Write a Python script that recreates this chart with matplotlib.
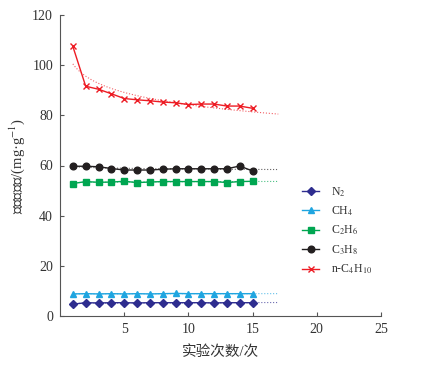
import matplotlib
matplotlib.use("Agg")
import matplotlib.pyplot as plt
import numpy as np

# experiment number and saturated adsorption of each gas (mg/g)
runs = np.arange(1, 16)
n2 = [4.7, 5.3, 5.2, 5.3, 5.3, 5.2, 5.3, 5.3, 5.3, 5.3, 5.3, 5.2, 5.3, 5.3, 5.3]
ch4 = [8.8, 8.9, 8.8, 8.9, 8.8, 8.9, 8.8, 8.9, 9.0, 8.9, 8.9, 8.9, 8.9, 8.9, 8.9]
c2h6 = [52.8, 53.6, 53.3, 53.4, 53.7, 53.2, 53.4, 53.6, 53.6, 53.6, 53.6, 53.6, 53.2, 53.6, 53.7]
c3h8 = [59.7, 59.7, 59.5, 58.8, 58.2, 58.2, 58.2, 58.5, 58.7, 58.7, 58.7, 58.7, 58.7, 59.8, 57.8]
c4h10 = [107.5, 91.6, 90.4, 88.6, 86.7, 86.2, 85.8, 85.3, 85.0, 84.3, 84.5, 84.5, 83.7, 83.7, 82.8]

labels = ['N$_2$', 'CH$_4$', 'C$_2$H$_6$', 'C$_3$H$_8$', 'n-C$_4$H$_{10}$']
colors = ['#2e2d8f', '#1fa5e0', '#00a651', '#231f20', '#ed1c24']
markers = ['D', '^', 's', 'o', 'x']
msizes = [4, 5, 4.5, 4.8, 4.5]

plt.rcParams['font.family'] = ['Liberation Serif', 'Noto Sans CJK SC']
plt.rcParams['mathtext.fontset'] = 'stix'

fig = plt.figure(figsize=(4.21, 3.65), dpi=100)
ax = fig.add_axes([60 / 421, 49 / 365, 321 / 421, 301 / 365])

xfit = np.linspace(1, 17, 100)
for y, lab, c, m, ms in zip([n2, ch4, c2h6, c3h8, c4h10], labels, colors, markers, msizes):
    # logarithmic trend line, extended to run 17
    b, a = np.polyfit(np.log(runs), y, 1)
    ax.plot(xfit, a + b * np.log(xfit), ':', color=c, lw=0.8, alpha=0.7)
    ax.plot(runs, y, color=c, marker=m, ms=ms, lw=1.0, mew=1.0, label=lab)

ax.set_xlim(0, 25)
ax.set_ylim(0, 120)
ax.set_xticks([5, 10, 15, 20, 25])
ax.set_yticks([0, 20, 40, 60, 80, 100, 120])
for s in ['top', 'right']:
    ax.spines[s].set_visible(False)
for s in ['left', 'bottom']:
    ax.spines[s].set_color('#555555')
    ax.spines[s].set_linewidth(0.8)
ax.tick_params(direction='in', length=3, width=0.8, color='#555555',
               labelsize=10, labelcolor='#333333', pad=5)

ax.set_xlabel('实验次数/次', fontsize=10.5, color='#333333', labelpad=7)
ax.set_ylabel('饱和吸附量/(mg·g$^{-1}$)', fontsize=10.5, color='#333333', labelpad=4)

ax.legend(loc='upper left', bbox_to_anchor=(0.72, 0.47), frameon=False,
          fontsize=8.5, handlelength=1.5, handletextpad=1.0, labelspacing=0.5,
          labelcolor='#333333')

fig.savefig('out.png', dpi=100)
